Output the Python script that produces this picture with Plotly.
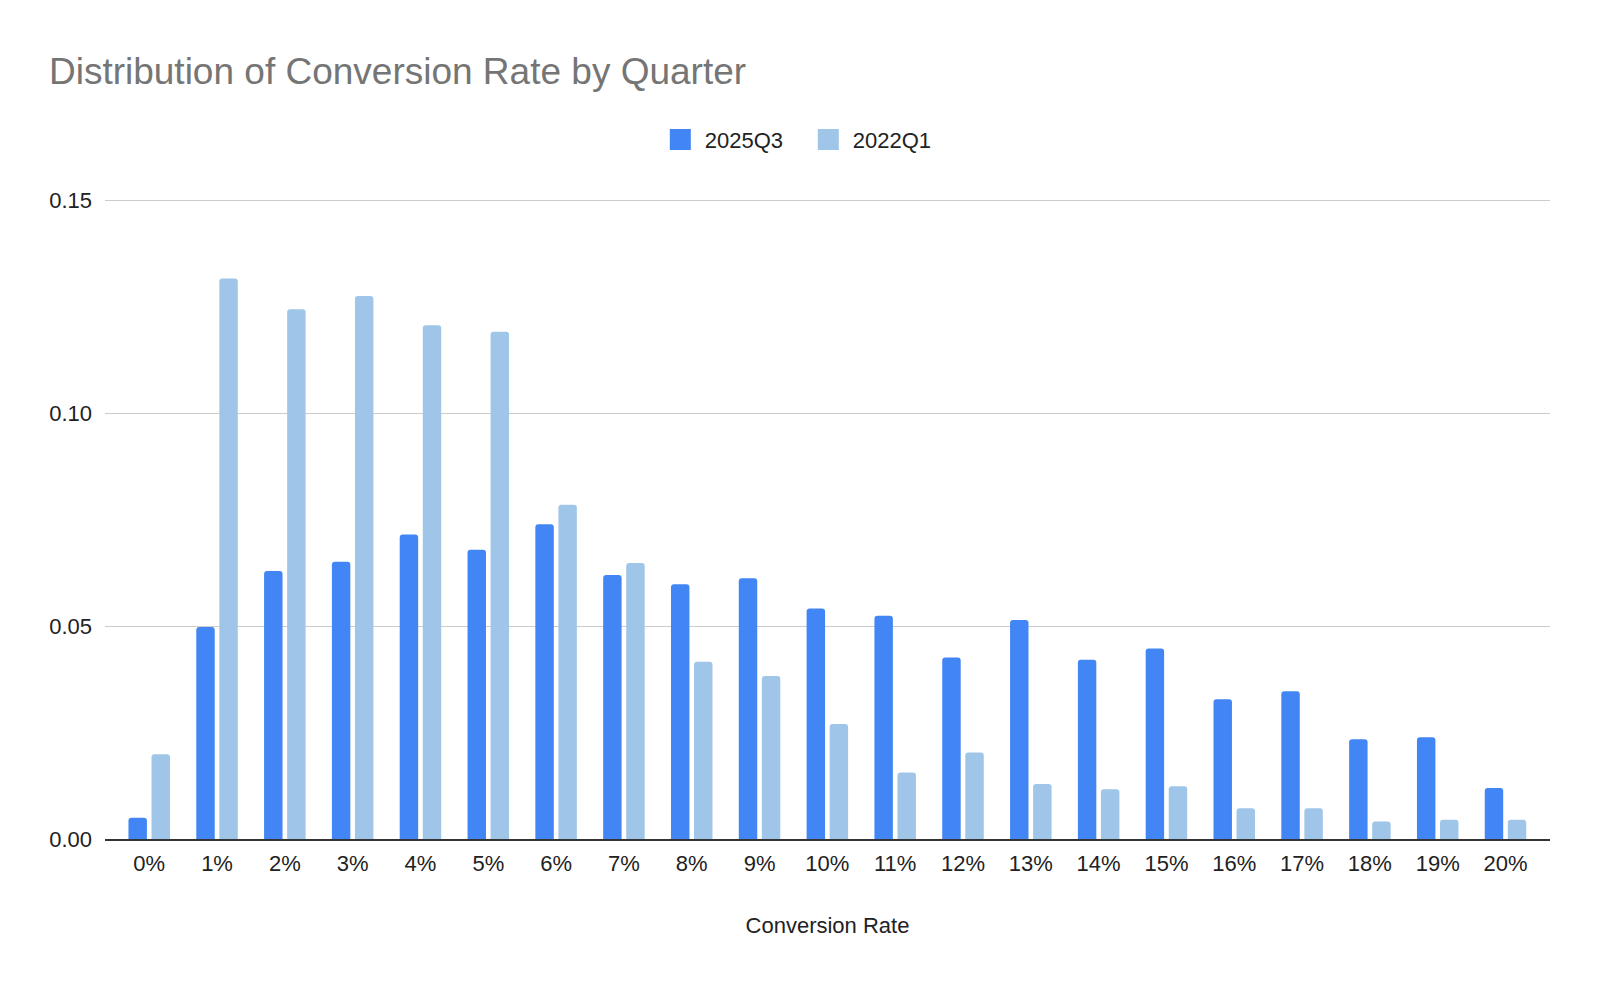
import plotly.graph_objects as go

categories = [f"{i}%" for i in range(21)]
q2025 = [0.0050, 0.0498, 0.0629, 0.0651, 0.0715, 0.0679, 0.0739, 0.0620, 0.0598, 0.0612,
         0.0541, 0.0524, 0.0426, 0.0514, 0.0421, 0.0447, 0.0328, 0.0347, 0.0234, 0.0239, 0.0120]
q2022 = [0.0199, 0.1316, 0.1244, 0.1275, 0.1206, 0.1191, 0.0785, 0.0648, 0.0416, 0.0383,
         0.0270, 0.0156, 0.0203, 0.0129, 0.0117, 0.0124, 0.0072, 0.0072, 0.0041, 0.0045, 0.0045]
series_names = ["2025Q3", "2022Q1"]
series_colors = ["#4285F4", "#9FC5E8"]
y_ticks = [0, 0.05, 0.10, 0.15]
y_labels = ["0.00", "0.05", "0.10", "0.15"]

font = "Liberation Sans, Arial, sans-serif"

fig = go.Figure()
for name, vals, col in zip(series_names, [q2025, q2022], series_colors):
    fig.add_trace(go.Bar(x=categories, y=vals, name=name, showlegend=False,
                         marker=dict(color=col, cornerradius=3, line=dict(width=0))))
# legend-only entries with larger square swatches
for name, col in zip(series_names, series_colors):
    fig.add_trace(go.Scatter(x=[None], y=[None], name=name, mode="markers",
                             marker=dict(symbol="square", size=16, color=col,
                                         line=dict(color=col, width=5)),
                             hoverinfo="skip"))

fig.update_layout(
    width=1600, height=988,
    paper_bgcolor="white", plot_bgcolor="white",
    font=dict(family=font, size=22, color="#222222"),
    title=dict(text="Distribution of Conversion Rate by Quarter", x=0.0306, xanchor="left",
               y=0.9276, yanchor="middle",
               font=dict(family=font, size=37, color="#757575")),
    margin=dict(l=105, r=50, t=198, b=149),
    barmode="group", bargap=0.32, bargroupgap=0.2,
    legend=dict(orientation="h", x=0.4836, xanchor="center", y=1.091, yanchor="middle",
                font=dict(family=font, size=22, color="#222222"), itemwidth=39,
                entrywidth=94, entrywidthmode="pixels",
                itemsizing="trace", traceorder="normal"),
    showlegend=True,
)
fig.update_xaxes(title=dict(text="Conversion Rate", font=dict(family=font, size=22, color="#222222"),
                            standoff=42),
                 type="category", range=[-0.652, 20.656],
                 showgrid=False, showline=True, linecolor="#333333", linewidth=1.5,
                 ticks="", tickfont=dict(size=22), ticklabelstandoff=4)
fig.update_yaxes(range=[0, 0.1505], tickvals=y_ticks, ticktext=y_labels,
                 showgrid=True, gridcolor="#cccccc", gridwidth=1, zeroline=False,
                 tickfont=dict(size=22), ticklabelstandoff=12)

fig.write_html("out.html", config={"displayModeBar": False},
               post_script="document.body.style.margin='0';document.body.style.overflow='hidden';")
